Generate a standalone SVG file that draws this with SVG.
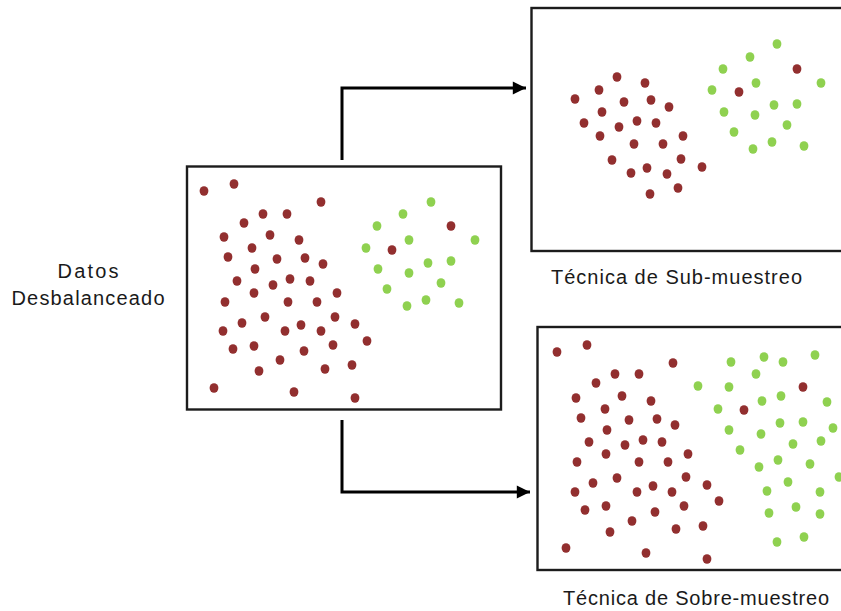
<svg xmlns="http://www.w3.org/2000/svg" xmlns:xlink="http://www.w3.org/1999/xlink" width="841" height="611" viewBox="0 0 841 611">
  <style>
    .frame{fill:#fff;stroke:#1c1c1c;stroke-width:2.4}
    .link{fill:none;stroke:#000;stroke-width:3}
    .label{font-family:"Liberation Sans",Arial,sans-serif;font-size:20px;fill:#1a1a1a}
  </style>
  <defs>
    <ellipse id="r" rx="4.4" ry="4.8" fill="#922f2f"/>
    <ellipse id="g" rx="4.4" ry="4.8" fill="#8fd150"/>
    <marker id="head" viewBox="0 0 10 10" refX="10" refY="5" markerWidth="5" markerHeight="4.4" orient="auto" markerUnits="strokeWidth">
      <path d="M0,0 L10,5 L0,10 z" fill="#000"/>
    </marker>
  </defs>
  <rect width="841" height="611" fill="#fff"/>

  <!-- connectors -->
  <g id="connectors">
    <path class="link" d="M342,160 V88 H526" marker-end="url(#head)"/>
    <path class="link" d="M342,420 V492 H530" marker-end="url(#head)"/>
  </g>

  <!-- source label -->
  <g id="label-source">
    <text class="label" x="88" y="278" text-anchor="middle" textLength="61" lengthAdjust="spacing">Datos</text>
    <text class="label" x="88" y="305" text-anchor="middle" textLength="153" lengthAdjust="spacing">Desbalanceado</text>
  </g>

  <!-- imbalanced data set -->
  <g id="node-source">
    <rect class="frame" x="187" y="166.5" width="314" height="243"/>
    <g>
      <use href="#r" x="204" y="191"/><use href="#r" x="234" y="184"/><use href="#r" x="321" y="202"/>
      <use href="#r" x="263" y="214"/><use href="#r" x="287" y="214"/><use href="#r" x="244" y="223"/>
      <use href="#r" x="224" y="237"/><use href="#r" x="270" y="235"/><use href="#r" x="299" y="240"/>
      <use href="#r" x="252" y="248"/><use href="#r" x="228" y="257"/><use href="#r" x="277" y="259"/>
      <use href="#r" x="305" y="258"/><use href="#r" x="323" y="264"/><use href="#r" x="255" y="269"/>
      <use href="#r" x="237" y="281"/><use href="#r" x="273" y="285"/><use href="#r" x="290" y="279"/>
      <use href="#r" x="310" y="281"/><use href="#r" x="254" y="293"/><use href="#r" x="337" y="293"/>
      <use href="#r" x="225" y="302"/><use href="#r" x="288" y="302"/><use href="#r" x="317" y="302"/>
      <use href="#r" x="265" y="317"/><use href="#r" x="335" y="317"/><use href="#r" x="242" y="323"/>
      <use href="#r" x="223" y="331"/><use href="#r" x="285" y="331"/><use href="#r" x="301" y="325"/>
      <use href="#r" x="321" y="331"/><use href="#r" x="355" y="324"/><use href="#r" x="233" y="349"/>
      <use href="#r" x="254" y="346"/><use href="#r" x="333" y="345"/><use href="#r" x="304" y="351"/>
      <use href="#r" x="367" y="341"/><use href="#r" x="280" y="360"/><use href="#r" x="259" y="371"/>
      <use href="#r" x="325" y="369"/><use href="#r" x="352" y="365"/><use href="#r" x="214" y="388"/>
      <use href="#r" x="294" y="392"/><use href="#r" x="355" y="398"/>
      <use href="#r" x="451" y="226"/><use href="#r" x="392" y="250"/>
    </g>
    <g>
      <use href="#g" x="431" y="202"/><use href="#g" x="403" y="214"/><use href="#g" x="377" y="226"/>
      <use href="#g" x="409" y="240"/><use href="#g" x="366" y="248"/><use href="#g" x="475" y="240"/>
      <use href="#g" x="378" y="269"/><use href="#g" x="409" y="273"/><use href="#g" x="428" y="263"/>
      <use href="#g" x="451" y="261"/><use href="#g" x="441" y="283"/><use href="#g" x="387" y="289"/>
      <use href="#g" x="407" y="306"/><use href="#g" x="426" y="300"/><use href="#g" x="459" y="303"/>
    </g>
  </g>

  <!-- undersampled data set -->
  <g id="node-undersampling">
    <rect class="frame" x="531.5" y="8" width="320" height="243"/>
    <g>
      <use href="#r" x="575" y="99"/><use href="#r" x="599" y="90"/><use href="#r" x="617" y="77"/>
      <use href="#r" x="645" y="83"/><use href="#r" x="624" y="102"/><use href="#r" x="651" y="100"/>
      <use href="#r" x="669" y="107"/><use href="#r" x="602" y="112"/><use href="#r" x="584" y="123"/>
      <use href="#r" x="619" y="127"/><use href="#r" x="637" y="121"/><use href="#r" x="656" y="123"/>
      <use href="#r" x="600" y="136"/><use href="#r" x="683" y="136"/><use href="#r" x="634" y="144"/>
      <use href="#r" x="663" y="144"/><use href="#r" x="612" y="160"/><use href="#r" x="681" y="159"/>
      <use href="#r" x="647" y="168"/><use href="#r" x="631" y="173"/><use href="#r" x="667" y="174"/>
      <use href="#r" x="702" y="167"/><use href="#r" x="650" y="194"/><use href="#r" x="678" y="188"/>
      <use href="#r" x="797" y="69"/><use href="#r" x="739" y="92"/>
    </g>
    <g>
      <use href="#g" x="777" y="44"/><use href="#g" x="750" y="57"/><use href="#g" x="723" y="69"/>
      <use href="#g" x="756" y="83"/><use href="#g" x="712" y="90"/><use href="#g" x="821" y="83"/>
      <use href="#g" x="724" y="112"/><use href="#g" x="755" y="115"/><use href="#g" x="774" y="105"/>
      <use href="#g" x="797" y="104"/><use href="#g" x="787" y="125"/><use href="#g" x="734" y="132"/>
      <use href="#g" x="753" y="149"/><use href="#g" x="772" y="142"/><use href="#g" x="804" y="146"/>
    </g>
    <text class="label" x="551" y="284" textLength="251" lengthAdjust="spacing">Técnica de Sub-muestreo</text>
  </g>

  <!-- oversampled data set -->
  <g id="node-oversampling">
    <rect class="frame" x="537.5" y="327" width="320" height="243"/>
    <g>
      <use href="#r" x="557" y="352"/><use href="#r" x="587" y="345"/><use href="#r" x="673" y="363"/>
      <use href="#r" x="615" y="374"/><use href="#r" x="639" y="374"/><use href="#r" x="596" y="383"/>
      <use href="#r" x="576" y="398"/><use href="#r" x="622" y="396"/><use href="#r" x="651" y="401"/>
      <use href="#r" x="605" y="409"/><use href="#r" x="581" y="418"/><use href="#r" x="629" y="420"/>
      <use href="#r" x="657" y="419"/><use href="#r" x="675" y="425"/><use href="#r" x="607" y="430"/>
      <use href="#r" x="589" y="442"/><use href="#r" x="625" y="445"/><use href="#r" x="643" y="440"/>
      <use href="#r" x="662" y="442"/><use href="#r" x="606" y="454"/><use href="#r" x="688" y="454"/>
      <use href="#r" x="577" y="462"/><use href="#r" x="639" y="462"/><use href="#r" x="668" y="462"/>
      <use href="#r" x="617" y="478"/><use href="#r" x="686" y="477"/><use href="#r" x="593" y="483"/>
      <use href="#r" x="575" y="492"/><use href="#r" x="637" y="492"/><use href="#r" x="653" y="486"/>
      <use href="#r" x="672" y="492"/><use href="#r" x="707" y="485"/><use href="#r" x="585" y="510"/>
      <use href="#r" x="606" y="506"/><use href="#r" x="684" y="506"/><use href="#r" x="655" y="512"/>
      <use href="#r" x="719" y="501"/><use href="#r" x="632" y="521"/><use href="#r" x="610" y="532"/>
      <use href="#r" x="676" y="529"/><use href="#r" x="703" y="526"/><use href="#r" x="566" y="548"/>
      <use href="#r" x="646" y="553"/><use href="#r" x="707" y="559"/>
      <use href="#r" x="803" y="387"/><use href="#r" x="744" y="410"/>
    </g>
    <g>
      <use href="#g" x="731" y="362"/><use href="#g" x="764" y="357"/><use href="#g" x="783" y="362"/>
      <use href="#g" x="815" y="355"/><use href="#g" x="756" y="374"/><use href="#g" x="698" y="386"/>
      <use href="#g" x="729" y="387"/><use href="#g" x="781" y="396"/><use href="#g" x="762" y="401"/>
      <use href="#g" x="827" y="402"/><use href="#g" x="718" y="409"/><use href="#g" x="729" y="430"/>
      <use href="#g" x="761" y="434"/><use href="#g" x="780" y="423"/><use href="#g" x="803" y="422"/>
      <use href="#g" x="833" y="428"/><use href="#g" x="793" y="444"/><use href="#g" x="821" y="441"/>
      <use href="#g" x="740" y="450"/><use href="#g" x="759" y="467"/><use href="#g" x="778" y="460"/>
      <use href="#g" x="810" y="464"/><use href="#g" x="839" y="477"/><use href="#g" x="788" y="482"/>
      <use href="#g" x="767" y="491"/><use href="#g" x="820" y="492"/><use href="#g" x="769" y="513"/>
      <use href="#g" x="796" y="507"/><use href="#g" x="820" y="514"/><use href="#g" x="777" y="542"/>
      <use href="#g" x="804" y="537"/>
    </g>
    <text class="label" x="563" y="605" textLength="266" lengthAdjust="spacing">Técnica de Sobre-muestreo</text>
  </g>
</svg>
